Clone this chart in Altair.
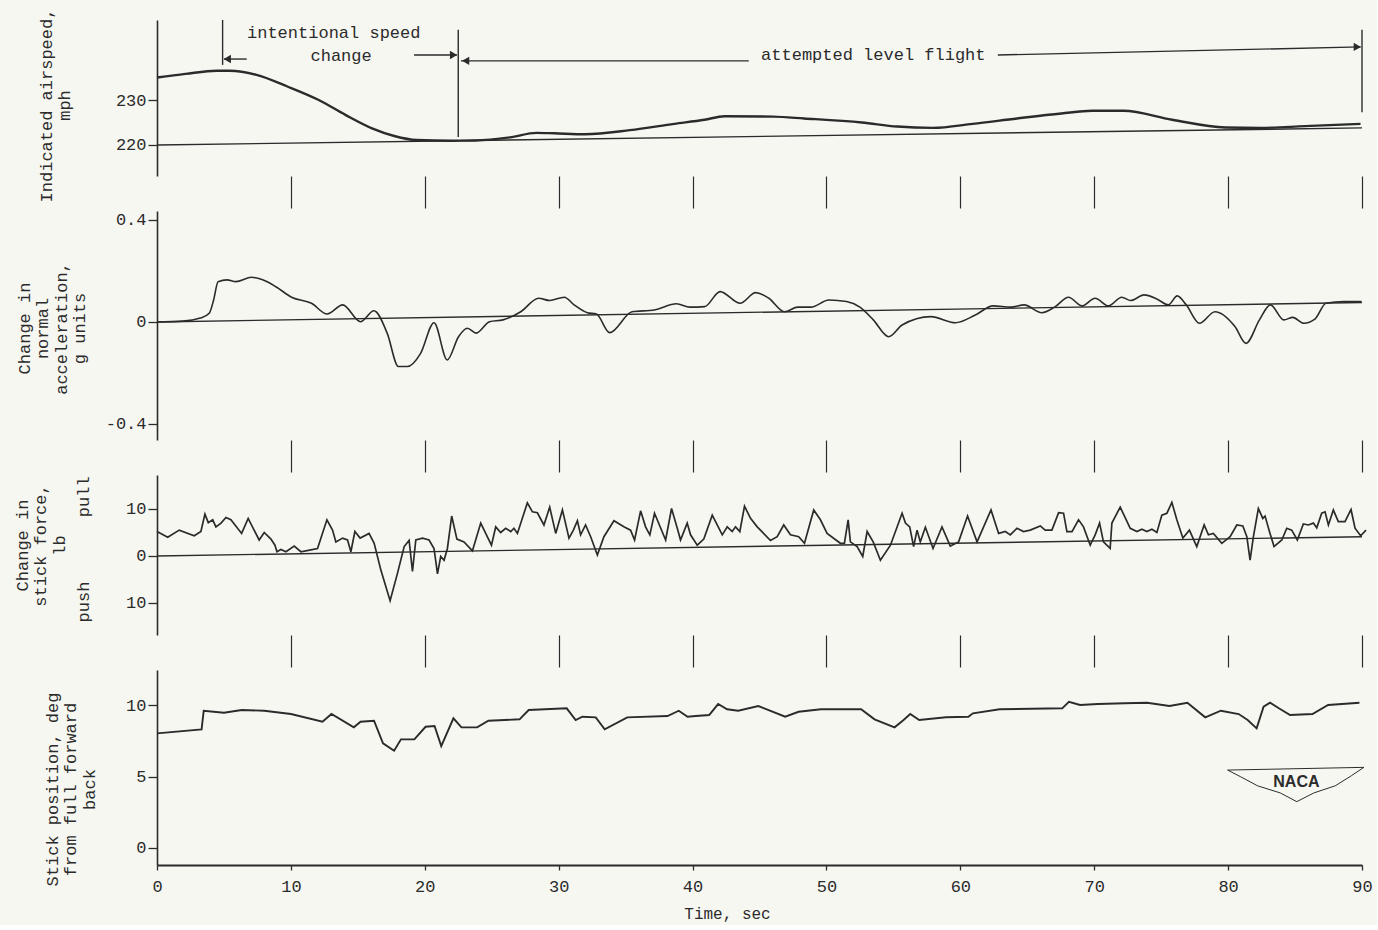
import altair as alt
import pandas as pd

# ---------------- data ----------------
# Panel 1: indicated airspeed, mph
as_t = [0, 2.13, 4.45, 5.43, 7.43, 9.74, 12.08, 14.07, 16.06, 17.72, 19.38, 22.04, 23.70,
        26.36, 28.35, 29.67, 31.97, 35.32, 38.63, 40.89, 42.38, 46.02, 48.33, 52.64, 55.29,
        57.94, 60.92, 64.24, 67.54, 69.86, 72.18, 75.82, 79.79, 82.44, 85.75, 89.89]
as_v = [235.0, 235.8, 236.5, 236.5, 235.6, 233.0, 230.0, 226.7, 223.7, 222.0, 221.1, 220.96, 221.0,
        221.7, 222.7, 222.6, 222.4, 223.3, 224.7, 225.6, 226.4, 226.3, 225.9, 225.0, 224.1,
        223.8, 224.7, 225.9, 227.0, 227.6, 227.6, 225.6, 223.9, 223.8, 224.2, 224.7]
as_base_t = [0, 90]
as_base_v = [220.0, 223.8]

# Panel 2: change in normal acceleration, g units
acc_t = [0, 1.91, 3.23, 3.90, 4.23, 4.56, 5.23, 5.89, 7.06, 7.89, 8.88, 10.05, 11.54, 12.71, 13.87,
         15.20, 16.20, 17.19, 18.03, 18.69, 19.69, 20.69, 21.68, 22.52, 23.18, 23.84, 24.84, 25.84,
         27.17, 28.50, 29.33, 30.42, 31.15, 32.15, 32.82, 33.81, 35.48, 37.15, 38.80, 39.80, 40.90,
         42.06, 43.55, 44.71, 45.70, 46.86, 47.86, 48.85, 50.18, 51.50, 52.50, 53.50, 54.65, 55.65,
         57.80, 59.63, 61.12, 62.45, 63.78, 64.77, 66.09, 67.09, 68.08, 69.08, 70.07, 71.06, 72.06,
         72.72, 73.72, 74.71, 75.54, 76.20, 76.87, 77.86, 79.02, 80.51, 81.34, 82.34, 83.16, 84.16,
         84.83, 85.65, 86.48, 87.31, 88.64, 89.96]
acc_v = [0.0, 0.003, 0.015, 0.034, 0.086, 0.158, 0.165, 0.158, 0.175, 0.165, 0.138, 0.097, 0.073,
         0.031, 0.067, 0.001, 0.044, -0.044, -0.175, -0.175, -0.123, -0.003, -0.149, -0.058, -0.025,
         -0.044, 0.001, 0.008, 0.040, 0.093, 0.084, 0.097, 0.067, 0.036, 0.031, -0.042, 0.040, 0.047,
         0.071, 0.058, 0.060, 0.119, 0.073, 0.115, 0.093, 0.040, 0.058, 0.058, 0.086, 0.080, 0.058,
         0.008, -0.058, -0.012, 0.021, -0.003, 0.027, 0.063, 0.058, 0.067, 0.036, 0.060, 0.097, 0.063,
         0.093, 0.063, 0.097, 0.084, 0.106, 0.089, 0.067, 0.102, 0.067, -0.005, 0.040, -0.018, -0.084,
         0.008, 0.067, 0.008, 0.018, -0.005, 0.011, 0.073, 0.080, 0.080]
acc_base_t = [0, 90]
acc_base_v = [0.0, 0.076]

# Panel 3: change in stick force, lb (pull positive, push negative)
sf_t = [0, 0.8, 1.66, 2.78, 3.28, 3.58, 3.83, 4.16, 4.40, 4.78, 5.15, 5.52, 6.32, 6.81, 7.63, 8.01,
        8.51, 8.81, 8.96, 9.25, 9.63, 10.25, 10.75, 11.49, 11.99, 12.69, 13.11, 13.36, 13.86, 14.23,
        14.48, 14.78, 15.17, 15.84, 16.22, 16.72, 17.41, 17.96, 18.46, 18.83, 19.08, 19.33, 19.83,
        20.32, 20.69, 20.95, 21.19, 21.44, 21.69, 22.01, 22.40, 22.93, 23.56, 24.18, 24.55, 24.98,
        25.30, 25.67, 26.04, 26.42, 26.66, 26.92, 27.66, 28.04, 28.41, 28.90, 29.33, 29.78, 30.28,
        30.77, 31.10, 31.40, 31.64, 32.01, 32.39, 32.89, 33.38, 34.13, 34.87, 35.37, 35.67, 36.12,
        36.49, 36.81, 37.16, 37.99, 38.43, 38.86, 39.10, 39.60, 39.85, 40.35, 40.84, 41.47, 41.84,
        42.22, 42.59, 42.96, 43.21, 43.53, 43.88, 44.33, 44.83, 45.82, 46.32, 46.81, 47.31, 47.93,
        48.36, 49.05, 49.55, 50.05, 51.04, 51.34, 51.62, 51.79, 52.29, 52.71, 53.04, 53.49, 54.03,
        54.78, 55.65, 55.90, 56.22, 56.51, 56.77, 57.01, 57.39, 57.96, 58.63, 59.25, 59.87, 60.54,
        61.25, 62.29, 62.86, 63.36, 63.73, 64.23, 64.72, 65.22, 65.97, 66.34, 66.84, 67.34, 67.71,
        67.96, 68.34, 68.83, 69.20, 69.70, 70.07, 70.40, 70.69, 71.19, 71.32, 71.94, 72.69, 73.19,
        73.56, 73.93, 74.31, 74.68, 75.05, 75.43, 75.80, 76.17, 76.62, 77.11, 77.66, 78.21, 78.53,
        78.90, 79.53, 80.15, 80.65, 81.10, 81.40, 81.64, 81.89, 82.26, 82.59, 82.76, 83.13, 83.43,
        84.01, 84.38, 84.75, 85.17, 85.62, 85.99, 86.37, 86.62, 86.99, 87.24, 87.49, 87.86, 88.23,
        88.73, 89.18, 89.48, 89.90, 90.3]
sf_v = [5.2, 4.0, 5.5, 4.3, 5.2, 8.9, 7.1, 7.7, 6.2, 7.0, 8.2, 7.7, 4.8, 8.0, 3.4, 5.0,
        3.6, 2.3, 0.9, 1.4, 0.9, 2.1, 0.9, 1.3, 1.6, 7.7, 5.5, 3.0, 3.8, 3.4,
        0.9, 5.2, 3.8, 4.8, 2.7, -3.0, -9.5, -3.7, 2.0, 3.3, -3.3, 3.4, 3.8,
        3.4, 1.6, -3.8, -0.1, -0.9, 1.6, 8.5, 3.6, 3.0, 1.1, 7.0, 4.8, 2.3,
        6.2, 5.0, 5.9, 5.2, 5.9, 4.8, 11.3, 9.4, 9.2, 6.6, 10.4, 4.8, 9.8,
        3.8, 5.5, 7.5, 4.5, 6.6, 4.1, 0.2, 4.1, 7.5, 6.2, 5.5, 3.4, 9.6,
        6.2, 4.5, 9.1, 3.4, 10.1, 5.9, 3.4, 7.0, 4.5, 2.3, 3.6, 8.7, 6.6,
        4.5, 6.2, 5.2, 6.2, 5.2, 10.6, 8.0, 6.2, 3.3, 4.1, 6.6, 4.5, 4.1,
        2.7, 9.8, 7.7, 4.8, 2.7, 2.7, 7.7, 3.0, 2.0, -0.1, 5.2, 3.0, -0.9,
        2.3, 9.1, 7.0, 6.2, 2.0, 5.5, 3.0, 6.1, 1.6, 6.2, 2.1, 3.0, 8.5,
        3.0, 9.8, 4.8, 5.2, 4.5, 5.9, 5.2, 5.5, 6.4, 5.5, 5.5, 9.2, 9.1,
        5.2, 5.2, 7.7, 6.2, 2.3, 4.5, 7.0, 3.0, 1.6, 7.0, 10.4, 5.9, 5.2,
        5.7, 5.2, 5.7, 5.0, 8.7, 9.1, 11.4, 7.7, 3.8, 5.5, 2.0, 6.6, 4.5,
        4.8, 2.7, 4.1, 6.6, 6.4, 4.1, -0.9, 4.1, 10.1, 8.0, 8.5, 4.8, 2.0,
        3.4, 5.9, 5.5, 3.4, 6.8, 6.6, 7.0, 6.0, 9.1, 9.4, 6.6, 9.8, 7.3,
        7.3, 9.9, 5.9, 4.3, 5.5]
sf_base_t = [0, 90]
sf_base_v = [0.0, 4.1]
sf_side_v = [12.6, -9.8]
sf_side_label = ["pull", "push"]

# Panel 4: stick position, deg from full forward
sp_t = [0, 3.33, 3.49, 5.0, 6.33, 8.01, 10.01, 12.36, 13.03, 14.70, 15.20, 16.21, 16.88, 17.71,
        18.22, 19.22, 20.06, 20.73, 21.23, 22.14, 22.74, 23.91, 24.75, 27.08, 27.76, 30.60, 31.27,
        31.77, 32.77, 33.44, 35.12, 38.13, 38.97, 39.63, 40.24, 41.24, 41.91, 42.58, 43.41, 44.91,
        46.92, 47.92, 49.59, 52.59, 53.59, 55.09, 55.76, 56.26, 56.93, 58.93, 60.60, 60.94, 62.94,
        67.61, 68.11, 68.94, 70.28, 72.28, 73.95, 75.62, 76.96, 78.29, 79.46, 80.79, 81.46, 82.13,
        82.65, 83.13, 83.79, 84.63, 86.30, 87.47, 89.81]
sp_v = [8.02, 8.30, 9.60, 9.46, 9.65, 9.60, 9.37, 8.83, 9.37, 8.44, 8.83, 8.90, 7.32, 6.80,
        7.60, 7.60, 8.48, 8.53, 7.13, 9.07, 8.44, 8.44, 8.90, 9.00, 9.65, 9.77, 8.95,
        9.18, 9.14, 8.30, 9.14, 9.23, 9.60, 9.18, 9.23, 9.30, 10.07, 9.70, 9.60, 9.93,
        9.18, 9.53, 9.70, 9.70, 9.00, 8.44, 8.95, 9.37, 8.95, 9.14, 9.18, 9.42, 9.70,
        9.77, 10.23, 10.00, 10.07, 10.12, 10.16, 9.93, 10.16, 9.14, 9.60, 9.37, 8.95, 8.37,
        9.88, 10.16, 9.77, 9.30, 9.37, 10.00, 10.16]

# annotations on the airspeed panel
mark_t = [4.9, 22.5, 90.0]
mark_lo = [237.8, 221.8, 227.3]
mark_hi = [247.8, 245.6, 245.6]
shaft_t1 = [6.7, 19.2, 22.7, 62.8]
shaft_t2 = [5.0, 22.4, 44.2, 89.9]
shaft_v1 = [239.1, 240.0, 238.7, 240.0]
shaft_v2 = [239.1, 240.0, 238.7, 241.8]
head_t = [5.25, 22.15, 23.05, 89.65]
head_v = [239.1, 240.0, 238.7, 241.8]
head_shape = ["triangle-left", "triangle-right", "triangle-left", "triangle-right"]
note_t = [13.2, 13.75, 53.5]
note_v = [244.9, 239.8, 240.0]
note_text = ["intentional speed", "change", "attempted level flight"]

# NACA emblem
logo_t = [79.96, 90.14, 89.2, 88.0, 86.4, 85.13, 83.9, 82.2, 80.9, 79.96]
logo_v = [5.45, 5.64, 5.05, 4.35, 3.85, 3.24, 3.85, 4.35, 5.0, 5.45]
logo_text_t = [85.1]
logo_text_v = [4.6]

time_ticks = [0, 10, 20, 30, 40, 50, 60, 70, 80, 90]

# ---------------- styling ----------------
FONT = "Liberation Mono"
INK = "#2b2b2b"
BG = "#f7f7f2"
FS = 17
W = 1205
XSC = alt.Scale(domain=[0, 90], nice=False, zero=False)


def mid_xaxis():
    return alt.Axis(values=time_ticks[1:], labels=False, domain=False, tickSize=32,
                    tickWidth=1.2, tickColor=INK, title=None, grid=False)


def yaxis(title, values, tx, ty, expr=None):
    kw = dict(title=title, values=values, titleX=tx, titleY=ty, titleAngle=270,
              titleBaseline="middle", titleAlign="center", titleLineHeight=18.5,
              grid=False, tickSize=9, labelPadding=2, domainWidth=1.6, tickWidth=1.3)
    if expr is not None:
        kw["labelExpr"] = expr
    return alt.Axis(**kw)


def trace(df, xa, ya, ysc, width=1.6, interp="linear"):
    return alt.Chart(df).mark_line(color=INK, strokeWidth=width, interpolate=interp).encode(
        x=alt.X("t:Q", scale=XSC, axis=xa), y=alt.Y("v:Q", scale=ysc, axis=ya))


def base(df, xa, ya, ysc):
    return alt.Chart(df).mark_line(color=INK, strokeWidth=1.4).encode(
        x=alt.X("t:Q", scale=XSC, axis=xa), y=alt.Y("v:Q", scale=ysc, axis=ya))


# ---- panel 1 ----
xa1 = mid_xaxis()
ya1 = yaxis(["Indicated airspeed,", "mph"], [220, 230], -111, 85)
ys1 = alt.Scale(domain=[213.11, 247.78], nice=False, zero=False)
df_mark = pd.DataFrame({"t": mark_t, "lo": mark_lo, "hi": mark_hi})
df_shaft = pd.DataFrame({"t1": shaft_t1, "t2": shaft_t2, "v1": shaft_v1, "v2": shaft_v2})
df_head = pd.DataFrame({"t": head_t, "v": head_v, "shape": head_shape})
df_note = pd.DataFrame({"t": note_t, "v": note_v, "label": note_text})
p1 = alt.layer(
    base(pd.DataFrame({"t": as_base_t, "v": as_base_v}), xa1, ya1, ys1),
    trace(pd.DataFrame({"t": as_t, "v": as_v}), xa1, ya1, ys1, width=2.4, interp="monotone"),
    alt.Chart(df_mark).mark_rule(color=INK, strokeWidth=1.4).encode(
        x=alt.X("t:Q", scale=XSC, axis=xa1), y=alt.Y("lo:Q", scale=ys1, axis=ya1), y2="hi:Q"),
    alt.Chart(df_shaft).mark_rule(color=INK, strokeWidth=1.4).encode(
        x=alt.X("t1:Q", scale=XSC, axis=xa1), x2="t2:Q",
        y=alt.Y("v1:Q", scale=ys1, axis=ya1), y2="v2:Q"),
    alt.Chart(df_head).mark_point(filled=True, color=INK, size=70, opacity=1).encode(
        x=alt.X("t:Q", scale=XSC, axis=xa1), y=alt.Y("v:Q", scale=ys1, axis=ya1),
        shape=alt.Shape("shape:N", scale=None)),
    alt.Chart(df_note).mark_text(font=FONT, fontSize=FS, color=INK).encode(
        x=alt.X("t:Q", scale=XSC, axis=xa1), y=alt.Y("v:Q", scale=ys1, axis=ya1), text="label:N"),
).properties(width=W, height=156)

# ---- panel 2 ----
xa2 = mid_xaxis()
ya2 = yaxis(["Change in", "normal", "acceleration,", "g units"], [-0.4, 0, 0.4], -133, 117,
            "datum.value == 0 ? '0' : (datum.value < 0 ? '-' : '') + format(abs(datum.value), '.1f')")
ys2 = alt.Scale(domain=[-0.463, 0.435], nice=False, zero=False)
p2 = alt.layer(
    base(pd.DataFrame({"t": acc_base_t, "v": acc_base_v}), xa2, ya2, ys2),
    trace(pd.DataFrame({"t": acc_t, "v": acc_v}), xa2, ya2, ys2, width=1.6, interp="monotone"),
).properties(width=W, height=229)

# ---- panel 3 ----
xa3 = mid_xaxis()
ya3 = yaxis(["Change in", "stick force,", "lb"], [-10, 0, 10], -135, 70,
            "format(abs(datum.value), 'd')")
ys3 = alt.Scale(domain=[-16.81, 17.23], nice=False, zero=False)
p3 = alt.layer(
    base(pd.DataFrame({"t": sf_base_t, "v": sf_base_v}), xa3, ya3, ys3),
    trace(pd.DataFrame({"t": sf_t, "v": sf_v}), xa3, ya3, ys3, width=1.7),
    alt.Chart(pd.DataFrame({"v": sf_side_v, "label": sf_side_label})).mark_text(
        font=FONT, fontSize=FS, color=INK, angle=270).encode(
        x=alt.value(-73), y=alt.Y("v:Q", scale=ys3, axis=ya3), text="label:N"),
).properties(width=W, height=160)

# ---- panel 4 ----
xa4 = alt.Axis(values=time_ticks, title="Time, sec", titleX=570, titleY=40, tickSize=5,
               labelPadding=8, labelFlush=False, domainWidth=1.8, tickWidth=1.3, grid=False,
               titleFontSize=16)
ya4 = yaxis(["Stick position, deg", "from full forward", "back"], [0, 5, 10], -105, 119)
ys4 = alt.Scale(domain=[-1.19, 12.45], nice=False, zero=False)
df_logo = pd.DataFrame({"t": logo_t, "v": logo_v, "i": list(range(len(logo_t)))})
p4 = alt.layer(
    trace(pd.DataFrame({"t": sp_t, "v": sp_v}), xa4, ya4, ys4, width=1.9),
    alt.Chart(df_logo).mark_line(color=INK, strokeWidth=1.0).encode(
        x=alt.X("t:Q", scale=XSC, axis=xa4), y=alt.Y("v:Q", scale=ys4, axis=ya4), order="i:Q"),
    alt.Chart(pd.DataFrame({"t": logo_text_t, "v": logo_text_v, "label": ["NACA"]})).mark_text(
        font="Liberation Sans", fontSize=16, fontWeight="bold", color=INK).encode(
        x=alt.X("t:Q", scale=XSC, axis=xa4), y=alt.Y("v:Q", scale=ys4, axis=ya4), text="label:N"),
).properties(width=W, height=195)

chart = alt.vconcat(p1, p2, p3, p4, spacing=35, bounds="flush").properties(
    background=BG, padding={"left": 13, "top": 8, "right": 4, "bottom": 4}
).configure_view(stroke=None).configure_axis(
    labelFont=FONT, titleFont=FONT, labelFontSize=FS, titleFontSize=FS,
    titleFontWeight="normal", labelColor=INK, titleColor=INK, domainColor=INK, tickColor=INK
)

chart.save("out.html", embed_options={"renderer": "svg", "actions": False})
